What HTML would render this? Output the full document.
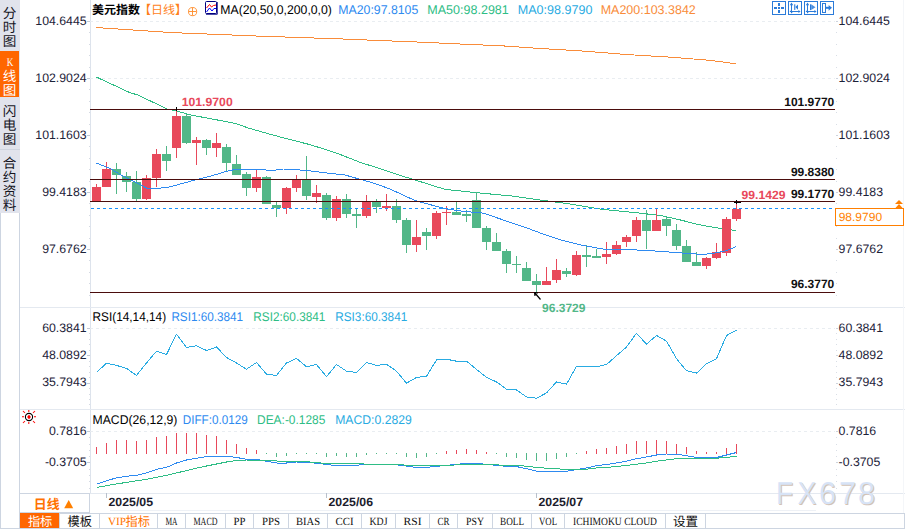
<!DOCTYPE html>
<html><head><meta charset="utf-8"><title>chart</title>
<style>html,body{margin:0;padding:0;background:#fff}svg{display:block}</style>
</head><body>
<svg width="905" height="529" viewBox="0 0 905 529" text-rendering="geometricPrecision">
<rect shape-rendering="crispEdges" x="0" y="0" width="905" height="529" fill="#fff"/>
<rect shape-rendering="crispEdges" x="0" y="0" width="20" height="529" fill="#fff"/>
<rect shape-rendering="crispEdges" x="0" y="0" width="20" height="213" fill="#e1e3ec"/>
<rect shape-rendering="crispEdges" x="0" y="51" width="19" height="46" fill="#ff6600"/>
<line shape-rendering="crispEdges" x1="0" y1="149.5" x2="20" y2="149.5" stroke="#cfd4df" stroke-width="1"/>
<line shape-rendering="crispEdges" x1="0.5" y1="213" x2="0.5" y2="529" stroke="#cdd5e1" stroke-width="1"/>
<line shape-rendering="crispEdges" x1="19.5" y1="213" x2="19.5" y2="529" stroke="#cdd5e1" stroke-width="1"/>
<line shape-rendering="crispEdges" x1="0" y1="528.5" x2="20" y2="528.5" stroke="#cdd5e1" stroke-width="1"/>
<text x="9.5" y="18.00" font-size="13.6" fill="#16161f" text-anchor="middle" font-family="Liberation Sans, Noto Sans CJK SC, sans-serif">分</text>
<text x="9.5" y="32.00" font-size="13.6" fill="#16161f" text-anchor="middle" font-family="Liberation Sans, Noto Sans CJK SC, sans-serif">时</text>
<text x="9.5" y="46.00" font-size="13.6" fill="#16161f" text-anchor="middle" font-family="Liberation Sans, Noto Sans CJK SC, sans-serif">图</text>
<text x="6.70" y="66.00" font-size="11.5" fill="#fff" text-anchor="start" font-weight="normal" font-family="Liberation Serif, sans-serif" textLength="6.60" lengthAdjust="spacingAndGlyphs">K</text>
<text x="9.5" y="81.00" font-size="13.6" fill="#fff" text-anchor="middle" font-family="Liberation Sans, Noto Sans CJK SC, sans-serif">线</text>
<text x="9.5" y="95.00" font-size="13.6" fill="#fff" text-anchor="middle" font-family="Liberation Sans, Noto Sans CJK SC, sans-serif">图</text>
<text x="9.5" y="116.00" font-size="13.6" fill="#16161f" text-anchor="middle" font-family="Liberation Sans, Noto Sans CJK SC, sans-serif">闪</text>
<text x="9.5" y="130.00" font-size="13.6" fill="#16161f" text-anchor="middle" font-family="Liberation Sans, Noto Sans CJK SC, sans-serif">电</text>
<text x="9.5" y="144.00" font-size="13.6" fill="#16161f" text-anchor="middle" font-family="Liberation Sans, Noto Sans CJK SC, sans-serif">图</text>
<text x="9.5" y="168.00" font-size="13.6" fill="#16161f" text-anchor="middle" font-family="Liberation Sans, Noto Sans CJK SC, sans-serif">合</text>
<text x="9.5" y="182.00" font-size="13.6" fill="#16161f" text-anchor="middle" font-family="Liberation Sans, Noto Sans CJK SC, sans-serif">约</text>
<text x="9.5" y="196.20" font-size="13.6" fill="#16161f" text-anchor="middle" font-family="Liberation Sans, Noto Sans CJK SC, sans-serif">资</text>
<text x="9.5" y="210.40" font-size="13.6" fill="#16161f" text-anchor="middle" font-family="Liberation Sans, Noto Sans CJK SC, sans-serif">料</text>
<line shape-rendering="crispEdges" x1="90.5" y1="0" x2="90.5" y2="493" stroke="#dde3ec" stroke-width="1"/>
<line shape-rendering="crispEdges" x1="20" y1="307.5" x2="905" y2="307.5" stroke="#e4e9f0" stroke-width="1"/>
<line shape-rendering="crispEdges" x1="20" y1="409.5" x2="905" y2="409.5" stroke="#e4e9f0" stroke-width="1"/>
<line shape-rendering="crispEdges" x1="20" y1="493.5" x2="905" y2="493.5" stroke="#e4e9f0" stroke-width="1"/>
<line shape-rendering="crispEdges" x1="903.5" y1="0" x2="903.5" y2="513" stroke="#f4f6f9" stroke-width="1"/>
<line shape-rendering="crispEdges" x1="90" y1="21.5" x2="835" y2="21.5" stroke="#e9edf1" stroke-width="1" stroke-dasharray="3 3"/>
<line shape-rendering="crispEdges" x1="90" y1="78.5" x2="835" y2="78.5" stroke="#e9edf1" stroke-width="1" stroke-dasharray="3 3"/>
<line shape-rendering="crispEdges" x1="90" y1="328.5" x2="835" y2="328.5" stroke="#e9edf1" stroke-width="1" stroke-dasharray="3 3"/>
<line shape-rendering="crispEdges" x1="90" y1="431.5" x2="835" y2="431.5" stroke="#e9edf1" stroke-width="1" stroke-dasharray="3 3"/>
<line shape-rendering="crispEdges" x1="87" y1="21.5" x2="90" y2="21.5" stroke="#c3cad6" stroke-width="1"/>
<line shape-rendering="crispEdges" x1="836" y1="21.5" x2="838" y2="21.5" stroke="#ced4de" stroke-width="1"/>
<line shape-rendering="crispEdges" x1="89" y1="32.5" x2="90" y2="32.5" stroke="#d5dae3" stroke-width="1"/>
<line shape-rendering="crispEdges" x1="836" y1="32.5" x2="837" y2="32.5" stroke="#d9dee6" stroke-width="1"/>
<line shape-rendering="crispEdges" x1="89" y1="44.5" x2="90" y2="44.5" stroke="#d5dae3" stroke-width="1"/>
<line shape-rendering="crispEdges" x1="836" y1="44.5" x2="837" y2="44.5" stroke="#d9dee6" stroke-width="1"/>
<line shape-rendering="crispEdges" x1="89" y1="55.5" x2="90" y2="55.5" stroke="#d5dae3" stroke-width="1"/>
<line shape-rendering="crispEdges" x1="836" y1="55.5" x2="837" y2="55.5" stroke="#d9dee6" stroke-width="1"/>
<line shape-rendering="crispEdges" x1="89" y1="67.5" x2="90" y2="67.5" stroke="#d5dae3" stroke-width="1"/>
<line shape-rendering="crispEdges" x1="836" y1="67.5" x2="837" y2="67.5" stroke="#d9dee6" stroke-width="1"/>
<line shape-rendering="crispEdges" x1="87" y1="78.5" x2="90" y2="78.5" stroke="#c3cad6" stroke-width="1"/>
<line shape-rendering="crispEdges" x1="836" y1="78.5" x2="838" y2="78.5" stroke="#ced4de" stroke-width="1"/>
<line shape-rendering="crispEdges" x1="89" y1="89.5" x2="90" y2="89.5" stroke="#d5dae3" stroke-width="1"/>
<line shape-rendering="crispEdges" x1="836" y1="89.5" x2="837" y2="89.5" stroke="#d9dee6" stroke-width="1"/>
<line shape-rendering="crispEdges" x1="89" y1="101.5" x2="90" y2="101.5" stroke="#d5dae3" stroke-width="1"/>
<line shape-rendering="crispEdges" x1="836" y1="101.5" x2="837" y2="101.5" stroke="#d9dee6" stroke-width="1"/>
<line shape-rendering="crispEdges" x1="89" y1="112.5" x2="90" y2="112.5" stroke="#d5dae3" stroke-width="1"/>
<line shape-rendering="crispEdges" x1="836" y1="112.5" x2="837" y2="112.5" stroke="#d9dee6" stroke-width="1"/>
<line shape-rendering="crispEdges" x1="89" y1="124.5" x2="90" y2="124.5" stroke="#d5dae3" stroke-width="1"/>
<line shape-rendering="crispEdges" x1="836" y1="124.5" x2="837" y2="124.5" stroke="#d9dee6" stroke-width="1"/>
<line shape-rendering="crispEdges" x1="87" y1="135.5" x2="90" y2="135.5" stroke="#c3cad6" stroke-width="1"/>
<line shape-rendering="crispEdges" x1="836" y1="135.5" x2="838" y2="135.5" stroke="#ced4de" stroke-width="1"/>
<line shape-rendering="crispEdges" x1="89" y1="146.5" x2="90" y2="146.5" stroke="#d5dae3" stroke-width="1"/>
<line shape-rendering="crispEdges" x1="836" y1="146.5" x2="837" y2="146.5" stroke="#d9dee6" stroke-width="1"/>
<line shape-rendering="crispEdges" x1="89" y1="158.5" x2="90" y2="158.5" stroke="#d5dae3" stroke-width="1"/>
<line shape-rendering="crispEdges" x1="836" y1="158.5" x2="837" y2="158.5" stroke="#d9dee6" stroke-width="1"/>
<line shape-rendering="crispEdges" x1="89" y1="169.5" x2="90" y2="169.5" stroke="#d5dae3" stroke-width="1"/>
<line shape-rendering="crispEdges" x1="836" y1="169.5" x2="837" y2="169.5" stroke="#d9dee6" stroke-width="1"/>
<line shape-rendering="crispEdges" x1="89" y1="181.5" x2="90" y2="181.5" stroke="#d5dae3" stroke-width="1"/>
<line shape-rendering="crispEdges" x1="836" y1="181.5" x2="837" y2="181.5" stroke="#d9dee6" stroke-width="1"/>
<line shape-rendering="crispEdges" x1="87" y1="192.5" x2="90" y2="192.5" stroke="#c3cad6" stroke-width="1"/>
<line shape-rendering="crispEdges" x1="836" y1="192.5" x2="838" y2="192.5" stroke="#ced4de" stroke-width="1"/>
<line shape-rendering="crispEdges" x1="89" y1="203.5" x2="90" y2="203.5" stroke="#d5dae3" stroke-width="1"/>
<line shape-rendering="crispEdges" x1="836" y1="203.5" x2="837" y2="203.5" stroke="#d9dee6" stroke-width="1"/>
<line shape-rendering="crispEdges" x1="89" y1="215.5" x2="90" y2="215.5" stroke="#d5dae3" stroke-width="1"/>
<line shape-rendering="crispEdges" x1="836" y1="215.5" x2="837" y2="215.5" stroke="#d9dee6" stroke-width="1"/>
<line shape-rendering="crispEdges" x1="89" y1="226.5" x2="90" y2="226.5" stroke="#d5dae3" stroke-width="1"/>
<line shape-rendering="crispEdges" x1="836" y1="226.5" x2="837" y2="226.5" stroke="#d9dee6" stroke-width="1"/>
<line shape-rendering="crispEdges" x1="89" y1="238.5" x2="90" y2="238.5" stroke="#d5dae3" stroke-width="1"/>
<line shape-rendering="crispEdges" x1="836" y1="238.5" x2="837" y2="238.5" stroke="#d9dee6" stroke-width="1"/>
<line shape-rendering="crispEdges" x1="87" y1="249.5" x2="90" y2="249.5" stroke="#c3cad6" stroke-width="1"/>
<line shape-rendering="crispEdges" x1="836" y1="249.5" x2="838" y2="249.5" stroke="#ced4de" stroke-width="1"/>
<line shape-rendering="crispEdges" x1="89" y1="260.5" x2="90" y2="260.5" stroke="#d5dae3" stroke-width="1"/>
<line shape-rendering="crispEdges" x1="836" y1="260.5" x2="837" y2="260.5" stroke="#d9dee6" stroke-width="1"/>
<line shape-rendering="crispEdges" x1="89" y1="272.5" x2="90" y2="272.5" stroke="#d5dae3" stroke-width="1"/>
<line shape-rendering="crispEdges" x1="836" y1="272.5" x2="837" y2="272.5" stroke="#d9dee6" stroke-width="1"/>
<line shape-rendering="crispEdges" x1="89" y1="283.5" x2="90" y2="283.5" stroke="#d5dae3" stroke-width="1"/>
<line shape-rendering="crispEdges" x1="836" y1="283.5" x2="837" y2="283.5" stroke="#d9dee6" stroke-width="1"/>
<line shape-rendering="crispEdges" x1="89" y1="295.5" x2="90" y2="295.5" stroke="#d5dae3" stroke-width="1"/>
<line shape-rendering="crispEdges" x1="836" y1="295.5" x2="837" y2="295.5" stroke="#d9dee6" stroke-width="1"/>
<line shape-rendering="crispEdges" x1="87" y1="328.5" x2="90" y2="328.5" stroke="#c3cad6" stroke-width="1"/>
<line shape-rendering="crispEdges" x1="836" y1="328.5" x2="838" y2="328.5" stroke="#ced4de" stroke-width="1"/>
<line shape-rendering="crispEdges" x1="89" y1="333.5" x2="90" y2="333.5" stroke="#d5dae3" stroke-width="1"/>
<line shape-rendering="crispEdges" x1="836" y1="333.5" x2="837" y2="333.5" stroke="#d9dee6" stroke-width="1"/>
<line shape-rendering="crispEdges" x1="89" y1="339.5" x2="90" y2="339.5" stroke="#d5dae3" stroke-width="1"/>
<line shape-rendering="crispEdges" x1="836" y1="339.5" x2="837" y2="339.5" stroke="#d9dee6" stroke-width="1"/>
<line shape-rendering="crispEdges" x1="89" y1="344.5" x2="90" y2="344.5" stroke="#d5dae3" stroke-width="1"/>
<line shape-rendering="crispEdges" x1="836" y1="344.5" x2="837" y2="344.5" stroke="#d9dee6" stroke-width="1"/>
<line shape-rendering="crispEdges" x1="89" y1="350.5" x2="90" y2="350.5" stroke="#d5dae3" stroke-width="1"/>
<line shape-rendering="crispEdges" x1="836" y1="350.5" x2="837" y2="350.5" stroke="#d9dee6" stroke-width="1"/>
<line shape-rendering="crispEdges" x1="87" y1="355.5" x2="90" y2="355.5" stroke="#c3cad6" stroke-width="1"/>
<line shape-rendering="crispEdges" x1="836" y1="355.5" x2="838" y2="355.5" stroke="#ced4de" stroke-width="1"/>
<line shape-rendering="crispEdges" x1="89" y1="361.5" x2="90" y2="361.5" stroke="#d5dae3" stroke-width="1"/>
<line shape-rendering="crispEdges" x1="836" y1="361.5" x2="837" y2="361.5" stroke="#d9dee6" stroke-width="1"/>
<line shape-rendering="crispEdges" x1="89" y1="366.5" x2="90" y2="366.5" stroke="#d5dae3" stroke-width="1"/>
<line shape-rendering="crispEdges" x1="836" y1="366.5" x2="837" y2="366.5" stroke="#d9dee6" stroke-width="1"/>
<line shape-rendering="crispEdges" x1="89" y1="372.5" x2="90" y2="372.5" stroke="#d5dae3" stroke-width="1"/>
<line shape-rendering="crispEdges" x1="836" y1="372.5" x2="837" y2="372.5" stroke="#d9dee6" stroke-width="1"/>
<line shape-rendering="crispEdges" x1="89" y1="377.5" x2="90" y2="377.5" stroke="#d5dae3" stroke-width="1"/>
<line shape-rendering="crispEdges" x1="836" y1="377.5" x2="837" y2="377.5" stroke="#d9dee6" stroke-width="1"/>
<line shape-rendering="crispEdges" x1="87" y1="383.5" x2="90" y2="383.5" stroke="#c3cad6" stroke-width="1"/>
<line shape-rendering="crispEdges" x1="836" y1="383.5" x2="838" y2="383.5" stroke="#ced4de" stroke-width="1"/>
<line shape-rendering="crispEdges" x1="89" y1="388.5" x2="90" y2="388.5" stroke="#d5dae3" stroke-width="1"/>
<line shape-rendering="crispEdges" x1="836" y1="388.5" x2="837" y2="388.5" stroke="#d9dee6" stroke-width="1"/>
<line shape-rendering="crispEdges" x1="89" y1="394.5" x2="90" y2="394.5" stroke="#d5dae3" stroke-width="1"/>
<line shape-rendering="crispEdges" x1="836" y1="394.5" x2="837" y2="394.5" stroke="#d9dee6" stroke-width="1"/>
<line shape-rendering="crispEdges" x1="89" y1="399.5" x2="90" y2="399.5" stroke="#d5dae3" stroke-width="1"/>
<line shape-rendering="crispEdges" x1="836" y1="399.5" x2="837" y2="399.5" stroke="#d9dee6" stroke-width="1"/>
<line shape-rendering="crispEdges" x1="89" y1="404.5" x2="90" y2="404.5" stroke="#d5dae3" stroke-width="1"/>
<line shape-rendering="crispEdges" x1="836" y1="404.5" x2="837" y2="404.5" stroke="#d9dee6" stroke-width="1"/>
<line shape-rendering="crispEdges" x1="87" y1="431.5" x2="90" y2="431.5" stroke="#c3cad6" stroke-width="1"/>
<line shape-rendering="crispEdges" x1="836" y1="431.5" x2="838" y2="431.5" stroke="#ced4de" stroke-width="1"/>
<line shape-rendering="crispEdges" x1="89" y1="437.5" x2="90" y2="437.5" stroke="#d5dae3" stroke-width="1"/>
<line shape-rendering="crispEdges" x1="836" y1="437.5" x2="837" y2="437.5" stroke="#d9dee6" stroke-width="1"/>
<line shape-rendering="crispEdges" x1="89" y1="444.5" x2="90" y2="444.5" stroke="#d5dae3" stroke-width="1"/>
<line shape-rendering="crispEdges" x1="836" y1="444.5" x2="837" y2="444.5" stroke="#d9dee6" stroke-width="1"/>
<line shape-rendering="crispEdges" x1="89" y1="450.5" x2="90" y2="450.5" stroke="#d5dae3" stroke-width="1"/>
<line shape-rendering="crispEdges" x1="836" y1="450.5" x2="837" y2="450.5" stroke="#d9dee6" stroke-width="1"/>
<line shape-rendering="crispEdges" x1="89" y1="456.5" x2="90" y2="456.5" stroke="#d5dae3" stroke-width="1"/>
<line shape-rendering="crispEdges" x1="836" y1="456.5" x2="837" y2="456.5" stroke="#d9dee6" stroke-width="1"/>
<line shape-rendering="crispEdges" x1="87" y1="462.5" x2="90" y2="462.5" stroke="#c3cad6" stroke-width="1"/>
<line shape-rendering="crispEdges" x1="836" y1="462.5" x2="838" y2="462.5" stroke="#ced4de" stroke-width="1"/>
<line shape-rendering="crispEdges" x1="89" y1="469.5" x2="90" y2="469.5" stroke="#d5dae3" stroke-width="1"/>
<line shape-rendering="crispEdges" x1="836" y1="469.5" x2="837" y2="469.5" stroke="#d9dee6" stroke-width="1"/>
<line shape-rendering="crispEdges" x1="89" y1="475.5" x2="90" y2="475.5" stroke="#d5dae3" stroke-width="1"/>
<line shape-rendering="crispEdges" x1="836" y1="475.5" x2="837" y2="475.5" stroke="#d9dee6" stroke-width="1"/>
<line shape-rendering="crispEdges" x1="89" y1="481.5" x2="90" y2="481.5" stroke="#d5dae3" stroke-width="1"/>
<line shape-rendering="crispEdges" x1="836" y1="481.5" x2="837" y2="481.5" stroke="#d9dee6" stroke-width="1"/>
<line shape-rendering="crispEdges" x1="89" y1="488.5" x2="90" y2="488.5" stroke="#d5dae3" stroke-width="1"/>
<line shape-rendering="crispEdges" x1="836" y1="488.5" x2="837" y2="488.5" stroke="#d9dee6" stroke-width="1"/>
<polyline shape-rendering="crispEdges" fill="none" stroke="#f98c3a" stroke-width="1" stroke-linejoin="round" points="96.5,27.6 172.0,32.6 256.0,36.0 340.0,38.9 424.0,42.3 468.0,44.4 500.0,45.7 542.0,48.6 584.0,51.1 626.0,54.5 668.0,57.0 710.0,60.3 735.5,63.7"/>
<polyline shape-rendering="crispEdges" fill="none" stroke="#2ebd85" stroke-width="1" stroke-linejoin="round" points="96.5,77.1 130.0,92.7 137.9,95.0 167.4,109.1 176.5,110.9 190.8,115.0 235.0,123.3 248.0,127.9 255.0,130.0 283.4,137.9 310.6,144.8 335.6,152.7 360.6,162.5 383.3,169.7 398.0,174.8 410.7,178.6 444.7,189.3 476.5,192.7 512.8,196.1 544.6,200.6 567.5,203.6 601.5,209.3 633.3,212.4 659.8,215.4 679.7,219.8 699.5,224.8 719.4,228.3 735.7,230.5"/>
<rect shape-rendering="crispEdges" x="96" y="184" width="1" height="17" fill="#e8495b"/>
<rect shape-rendering="crispEdges" x="92" y="187" width="9" height="14" fill="#e8495b"/>
<rect shape-rendering="crispEdges" x="106" y="162" width="1" height="25" fill="#e8495b"/>
<rect shape-rendering="crispEdges" x="102" y="169" width="9" height="18" fill="#e8495b"/>
<rect shape-rendering="crispEdges" x="116" y="163" width="1" height="31" fill="#52b788"/>
<rect shape-rendering="crispEdges" x="112" y="169" width="9" height="6" fill="#52b788"/>
<rect shape-rendering="crispEdges" x="126" y="172" width="1" height="20" fill="#52b788"/>
<rect shape-rendering="crispEdges" x="122" y="176" width="9" height="6" fill="#52b788"/>
<rect shape-rendering="crispEdges" x="136" y="171" width="1" height="30" fill="#52b788"/>
<rect shape-rendering="crispEdges" x="132" y="182" width="9" height="17" fill="#52b788"/>
<rect shape-rendering="crispEdges" x="146" y="175" width="1" height="25" fill="#e8495b"/>
<rect shape-rendering="crispEdges" x="142" y="178" width="9" height="21" fill="#e8495b"/>
<rect shape-rendering="crispEdges" x="156" y="149" width="1" height="38" fill="#e8495b"/>
<rect shape-rendering="crispEdges" x="152" y="154" width="9" height="24" fill="#e8495b"/>
<rect shape-rendering="crispEdges" x="166" y="146" width="1" height="25" fill="#52b788"/>
<rect shape-rendering="crispEdges" x="162" y="154" width="9" height="7" fill="#52b788"/>
<rect shape-rendering="crispEdges" x="176" y="110" width="1" height="48" fill="#e8495b"/>
<rect shape-rendering="crispEdges" x="172" y="116" width="9" height="32" fill="#e8495b"/>
<rect shape-rendering="crispEdges" x="186" y="114" width="1" height="30" fill="#52b788"/>
<rect shape-rendering="crispEdges" x="182" y="116" width="9" height="27" fill="#52b788"/>
<rect shape-rendering="crispEdges" x="196" y="137" width="1" height="28" fill="#e8495b"/>
<rect shape-rendering="crispEdges" x="192" y="140" width="9" height="3" fill="#e8495b"/>
<rect shape-rendering="crispEdges" x="206" y="139" width="1" height="16" fill="#52b788"/>
<rect shape-rendering="crispEdges" x="202" y="140" width="9" height="8" fill="#52b788"/>
<rect shape-rendering="crispEdges" x="216" y="133" width="1" height="24" fill="#e8495b"/>
<rect shape-rendering="crispEdges" x="212" y="143" width="9" height="5" fill="#e8495b"/>
<rect shape-rendering="crispEdges" x="226" y="144" width="1" height="27" fill="#52b788"/>
<rect shape-rendering="crispEdges" x="222" y="147" width="9" height="16" fill="#52b788"/>
<rect shape-rendering="crispEdges" x="236" y="155" width="1" height="20" fill="#52b788"/>
<rect shape-rendering="crispEdges" x="232" y="164" width="9" height="11" fill="#52b788"/>
<rect shape-rendering="crispEdges" x="246" y="172" width="1" height="24" fill="#52b788"/>
<rect shape-rendering="crispEdges" x="242" y="174" width="9" height="14" fill="#52b788"/>
<rect shape-rendering="crispEdges" x="256" y="170" width="1" height="22" fill="#e8495b"/>
<rect shape-rendering="crispEdges" x="252" y="177" width="9" height="11" fill="#e8495b"/>
<rect shape-rendering="crispEdges" x="266" y="176" width="1" height="28" fill="#52b788"/>
<rect shape-rendering="crispEdges" x="262" y="177" width="9" height="27" fill="#52b788"/>
<rect shape-rendering="crispEdges" x="276" y="202" width="1" height="15" fill="#52b788"/>
<rect shape-rendering="crispEdges" x="272" y="205" width="9" height="3" fill="#52b788"/>
<rect shape-rendering="crispEdges" x="286" y="187" width="1" height="27" fill="#e8495b"/>
<rect shape-rendering="crispEdges" x="282" y="188" width="9" height="20" fill="#e8495b"/>
<rect shape-rendering="crispEdges" x="296" y="175" width="1" height="17" fill="#e8495b"/>
<rect shape-rendering="crispEdges" x="292" y="180" width="9" height="8" fill="#e8495b"/>
<rect shape-rendering="crispEdges" x="306" y="156" width="1" height="44" fill="#52b788"/>
<rect shape-rendering="crispEdges" x="302" y="180" width="9" height="16" fill="#52b788"/>
<rect shape-rendering="crispEdges" x="316" y="185" width="1" height="18" fill="#e8495b"/>
<rect shape-rendering="crispEdges" x="312" y="193" width="9" height="4" fill="#e8495b"/>
<rect shape-rendering="crispEdges" x="326" y="193" width="1" height="27" fill="#52b788"/>
<rect shape-rendering="crispEdges" x="322" y="195" width="9" height="23" fill="#52b788"/>
<rect shape-rendering="crispEdges" x="336" y="196" width="1" height="25" fill="#e8495b"/>
<rect shape-rendering="crispEdges" x="332" y="199" width="9" height="19" fill="#e8495b"/>
<rect shape-rendering="crispEdges" x="346" y="194" width="1" height="24" fill="#52b788"/>
<rect shape-rendering="crispEdges" x="342" y="199" width="9" height="15" fill="#52b788"/>
<rect shape-rendering="crispEdges" x="356" y="209" width="1" height="19" fill="#52b788"/>
<rect shape-rendering="crispEdges" x="352" y="214" width="9" height="2" fill="#52b788"/>
<rect shape-rendering="crispEdges" x="366" y="195" width="1" height="23" fill="#e8495b"/>
<rect shape-rendering="crispEdges" x="362" y="202" width="9" height="14" fill="#e8495b"/>
<rect shape-rendering="crispEdges" x="376" y="199" width="1" height="14" fill="#52b788"/>
<rect shape-rendering="crispEdges" x="372" y="202" width="9" height="5" fill="#52b788"/>
<rect shape-rendering="crispEdges" x="386" y="194" width="1" height="17" fill="#e8495b"/>
<rect shape-rendering="crispEdges" x="382" y="206" width="9" height="2" fill="#e8495b"/>
<rect shape-rendering="crispEdges" x="396" y="199" width="1" height="24" fill="#52b788"/>
<rect shape-rendering="crispEdges" x="392" y="206" width="9" height="14" fill="#52b788"/>
<rect shape-rendering="crispEdges" x="406" y="218" width="1" height="35" fill="#52b788"/>
<rect shape-rendering="crispEdges" x="402" y="220" width="9" height="25" fill="#52b788"/>
<rect shape-rendering="crispEdges" x="416" y="220" width="1" height="32" fill="#e8495b"/>
<rect shape-rendering="crispEdges" x="412" y="237" width="9" height="8" fill="#e8495b"/>
<rect shape-rendering="crispEdges" x="426" y="228" width="1" height="22" fill="#52b788"/>
<rect shape-rendering="crispEdges" x="422" y="232" width="9" height="4" fill="#52b788"/>
<rect shape-rendering="crispEdges" x="436" y="211" width="1" height="28" fill="#e8495b"/>
<rect shape-rendering="crispEdges" x="432" y="213" width="9" height="23" fill="#e8495b"/>
<rect shape-rendering="crispEdges" x="446" y="206" width="1" height="19" fill="#e8495b"/>
<rect shape-rendering="crispEdges" x="442" y="212" width="9" height="1" fill="#e8495b"/>
<rect shape-rendering="crispEdges" x="456" y="202" width="1" height="13" fill="#52b788"/>
<rect shape-rendering="crispEdges" x="452" y="212" width="9" height="3" fill="#52b788"/>
<rect shape-rendering="crispEdges" x="466" y="210" width="1" height="12" fill="#52b788"/>
<rect shape-rendering="crispEdges" x="462" y="214" width="9" height="2" fill="#52b788"/>
<rect shape-rendering="crispEdges" x="476" y="192" width="1" height="36" fill="#52b788"/>
<rect shape-rendering="crispEdges" x="472" y="200" width="9" height="28" fill="#52b788"/>
<rect shape-rendering="crispEdges" x="486" y="226" width="1" height="24" fill="#52b788"/>
<rect shape-rendering="crispEdges" x="482" y="228" width="9" height="14" fill="#52b788"/>
<rect shape-rendering="crispEdges" x="496" y="233" width="1" height="18" fill="#52b788"/>
<rect shape-rendering="crispEdges" x="492" y="242" width="9" height="9" fill="#52b788"/>
<rect shape-rendering="crispEdges" x="506" y="249" width="1" height="24" fill="#52b788"/>
<rect shape-rendering="crispEdges" x="502" y="251" width="9" height="13" fill="#52b788"/>
<rect shape-rendering="crispEdges" x="516" y="256" width="1" height="17" fill="#52b788"/>
<rect shape-rendering="crispEdges" x="512" y="264" width="9" height="1" fill="#52b788"/>
<rect shape-rendering="crispEdges" x="526" y="262" width="1" height="19" fill="#52b788"/>
<rect shape-rendering="crispEdges" x="522" y="268" width="9" height="13" fill="#52b788"/>
<rect shape-rendering="crispEdges" x="536" y="274" width="1" height="18" fill="#52b788"/>
<rect shape-rendering="crispEdges" x="532" y="281" width="9" height="4" fill="#52b788"/>
<rect shape-rendering="crispEdges" x="546" y="267" width="1" height="18" fill="#e8495b"/>
<rect shape-rendering="crispEdges" x="542" y="281" width="9" height="4" fill="#e8495b"/>
<rect shape-rendering="crispEdges" x="556" y="259" width="1" height="24" fill="#e8495b"/>
<rect shape-rendering="crispEdges" x="552" y="270" width="9" height="10" fill="#e8495b"/>
<rect shape-rendering="crispEdges" x="566" y="268" width="1" height="9" fill="#52b788"/>
<rect shape-rendering="crispEdges" x="562" y="271" width="9" height="3" fill="#52b788"/>
<rect shape-rendering="crispEdges" x="576" y="251" width="1" height="25" fill="#e8495b"/>
<rect shape-rendering="crispEdges" x="572" y="255" width="9" height="20" fill="#e8495b"/>
<rect shape-rendering="crispEdges" x="586" y="245" width="1" height="22" fill="#52b788"/>
<rect shape-rendering="crispEdges" x="582" y="255" width="9" height="2" fill="#52b788"/>
<rect shape-rendering="crispEdges" x="596" y="249" width="1" height="9" fill="#52b788"/>
<rect shape-rendering="crispEdges" x="592" y="256" width="9" height="2" fill="#52b788"/>
<rect shape-rendering="crispEdges" x="606" y="242" width="1" height="22" fill="#e8495b"/>
<rect shape-rendering="crispEdges" x="602" y="254" width="9" height="3" fill="#e8495b"/>
<rect shape-rendering="crispEdges" x="616" y="241" width="1" height="14" fill="#e8495b"/>
<rect shape-rendering="crispEdges" x="612" y="245" width="9" height="9" fill="#e8495b"/>
<rect shape-rendering="crispEdges" x="626" y="235" width="1" height="12" fill="#e8495b"/>
<rect shape-rendering="crispEdges" x="622" y="237" width="9" height="5" fill="#e8495b"/>
<rect shape-rendering="crispEdges" x="636" y="217" width="1" height="25" fill="#e8495b"/>
<rect shape-rendering="crispEdges" x="632" y="220" width="9" height="16" fill="#e8495b"/>
<rect shape-rendering="crispEdges" x="646" y="210" width="1" height="39" fill="#52b788"/>
<rect shape-rendering="crispEdges" x="642" y="220" width="9" height="11" fill="#52b788"/>
<rect shape-rendering="crispEdges" x="656" y="209" width="1" height="22" fill="#e8495b"/>
<rect shape-rendering="crispEdges" x="652" y="220" width="9" height="11" fill="#e8495b"/>
<rect shape-rendering="crispEdges" x="666" y="217" width="1" height="19" fill="#52b788"/>
<rect shape-rendering="crispEdges" x="662" y="219" width="9" height="7" fill="#52b788"/>
<rect shape-rendering="crispEdges" x="676" y="224" width="1" height="26" fill="#52b788"/>
<rect shape-rendering="crispEdges" x="672" y="230" width="9" height="16" fill="#52b788"/>
<rect shape-rendering="crispEdges" x="686" y="240" width="1" height="22" fill="#52b788"/>
<rect shape-rendering="crispEdges" x="682" y="246" width="9" height="16" fill="#52b788"/>
<rect shape-rendering="crispEdges" x="696" y="252" width="1" height="14" fill="#52b788"/>
<rect shape-rendering="crispEdges" x="692" y="262" width="9" height="4" fill="#52b788"/>
<rect shape-rendering="crispEdges" x="706" y="257" width="1" height="12" fill="#e8495b"/>
<rect shape-rendering="crispEdges" x="702" y="258" width="9" height="8" fill="#e8495b"/>
<rect shape-rendering="crispEdges" x="716" y="243" width="1" height="16" fill="#e8495b"/>
<rect shape-rendering="crispEdges" x="712" y="252" width="9" height="6" fill="#e8495b"/>
<rect shape-rendering="crispEdges" x="726" y="217" width="1" height="39" fill="#e8495b"/>
<rect shape-rendering="crispEdges" x="722" y="219" width="9" height="34" fill="#e8495b"/>
<rect shape-rendering="crispEdges" x="736" y="202" width="1" height="19" fill="#e8495b"/>
<rect shape-rendering="crispEdges" x="732" y="209" width="9" height="10" fill="#e8495b"/>
<polyline shape-rendering="crispEdges" fill="none" stroke="#2e8af0" stroke-width="1" stroke-linejoin="round" points="96.4,163.1 110.7,168.8 122.0,175.6 133.4,181.2 147.5,188.5 160.6,188.1 170.0,186.9 189.8,181.4 209.7,176.4 229.5,170.5 237.5,169.2 249.4,170.0 257.3,169.2 272.0,170.6 283.4,169.0 306.0,170.4 324.2,172.7 344.7,174.9 358.3,178.8 374.2,183.3 390.0,189.0 415.2,200.6 444.7,208.6 462.9,211.3 483.3,213.1 508.3,221.7 528.7,228.6 545.0,234.8 560.7,239.9 583.4,245.6 606.0,249.5 642.4,250.1 665.1,251.7 688.0,253.5 701.6,254.4 713.0,253.5 726.6,250.6 735.7,246.7"/>
<line shape-rendering="crispEdges" x1="90" y1="109.5" x2="835" y2="109.5" stroke="#4a0c0c" stroke-width="1"/>
<line shape-rendering="crispEdges" x1="90" y1="179.5" x2="835" y2="179.5" stroke="#4a0c0c" stroke-width="1"/>
<line shape-rendering="crispEdges" x1="90" y1="201.5" x2="835" y2="201.5" stroke="#4a0c0c" stroke-width="1"/>
<line shape-rendering="crispEdges" x1="90" y1="292.5" x2="835" y2="292.5" stroke="#4a0c0c" stroke-width="1"/>
<line shape-rendering="crispEdges" x1="91" y1="208.5" x2="833" y2="208.5" stroke="#1890ff" stroke-width="1" stroke-dasharray="3 3"/>
<line shape-rendering="crispEdges" x1="176.5" y1="107" x2="176.5" y2="111" stroke="#000" stroke-width="1"/>
<line shape-rendering="crispEdges" x1="736.5" y1="200" x2="736.5" y2="204" stroke="#000" stroke-width="1"/>
<line shape-rendering="crispEdges" x1="734" y1="202.5" x2="741" y2="202.5" stroke="#000" stroke-width="1"/>
<path d="M534.5 292.5 L540.5 299.5 M534.5 292.5 l3.5 0.5 M534.5 292.5 l0.5 3.5" stroke="#000" stroke-width="1.2" fill="none"/>
<text x="181.70" y="106.00" font-size="12" fill="#e8495b" text-anchor="start" font-weight="bold" font-family="Liberation Sans, sans-serif" textLength="51.00" lengthAdjust="spacingAndGlyphs">101.9700</text>
<text x="741.50" y="198.50" font-size="12" fill="#e8495b" text-anchor="start" font-weight="bold" font-family="Liberation Sans, sans-serif" textLength="44.00" lengthAdjust="spacingAndGlyphs">99.1429</text>
<text x="542.00" y="312.00" font-size="12" fill="#52b788" text-anchor="start" font-weight="bold" font-family="Liberation Sans, sans-serif" textLength="43.50" lengthAdjust="spacingAndGlyphs">96.3729</text>
<text x="834.30" y="106.00" font-size="12" fill="#111" text-anchor="end" font-weight="bold" font-family="Liberation Sans, sans-serif">101.9770</text>
<text x="834.30" y="175.70" font-size="12" fill="#111" text-anchor="end" font-weight="bold" font-family="Liberation Sans, sans-serif">99.8380</text>
<text x="834.30" y="197.70" font-size="12" fill="#111" text-anchor="end" font-weight="bold" font-family="Liberation Sans, sans-serif">99.1770</text>
<text x="834.30" y="288.20" font-size="12" fill="#111" text-anchor="end" font-weight="bold" font-family="Liberation Sans, sans-serif">96.3770</text>
<text x="86.60" y="25.00" font-size="12.3" fill="#1c2238" text-anchor="end" font-weight="normal" font-family="Liberation Sans, sans-serif">104.6445</text>
<text x="838.60" y="25.00" font-size="12.3" fill="#1c2238" text-anchor="start" font-weight="normal" font-family="Liberation Sans, sans-serif">104.6445</text>
<text x="86.60" y="82.00" font-size="12.3" fill="#1c2238" text-anchor="end" font-weight="normal" font-family="Liberation Sans, sans-serif">102.9024</text>
<text x="838.60" y="82.00" font-size="12.3" fill="#1c2238" text-anchor="start" font-weight="normal" font-family="Liberation Sans, sans-serif">102.9024</text>
<text x="86.60" y="139.00" font-size="12.3" fill="#1c2238" text-anchor="end" font-weight="normal" font-family="Liberation Sans, sans-serif">101.1603</text>
<text x="838.60" y="139.00" font-size="12.3" fill="#1c2238" text-anchor="start" font-weight="normal" font-family="Liberation Sans, sans-serif">101.1603</text>
<text x="86.60" y="196.00" font-size="12.3" fill="#1c2238" text-anchor="end" font-weight="normal" font-family="Liberation Sans, sans-serif">99.4183</text>
<text x="838.60" y="196.00" font-size="12.3" fill="#1c2238" text-anchor="start" font-weight="normal" font-family="Liberation Sans, sans-serif">99.4183</text>
<text x="86.60" y="253.00" font-size="12.3" fill="#1c2238" text-anchor="end" font-weight="normal" font-family="Liberation Sans, sans-serif">97.6762</text>
<text x="838.60" y="253.00" font-size="12.3" fill="#1c2238" text-anchor="start" font-weight="normal" font-family="Liberation Sans, sans-serif">97.6762</text>
<text x="86.60" y="331.60" font-size="12.3" fill="#1c2238" text-anchor="end" font-weight="normal" font-family="Liberation Sans, sans-serif">60.3841</text>
<text x="838.60" y="331.60" font-size="12.3" fill="#1c2238" text-anchor="start" font-weight="normal" font-family="Liberation Sans, sans-serif">60.3841</text>
<text x="86.60" y="359.00" font-size="12.3" fill="#1c2238" text-anchor="end" font-weight="normal" font-family="Liberation Sans, sans-serif">48.0892</text>
<text x="838.60" y="359.00" font-size="12.3" fill="#1c2238" text-anchor="start" font-weight="normal" font-family="Liberation Sans, sans-serif">48.0892</text>
<text x="86.60" y="386.30" font-size="12.3" fill="#1c2238" text-anchor="end" font-weight="normal" font-family="Liberation Sans, sans-serif">35.7943</text>
<text x="838.60" y="386.30" font-size="12.3" fill="#1c2238" text-anchor="start" font-weight="normal" font-family="Liberation Sans, sans-serif">35.7943</text>
<text x="86.60" y="435.00" font-size="12.3" fill="#1c2238" text-anchor="end" font-weight="normal" font-family="Liberation Sans, sans-serif">0.7816</text>
<text x="838.60" y="435.00" font-size="12.3" fill="#1c2238" text-anchor="start" font-weight="normal" font-family="Liberation Sans, sans-serif">0.7816</text>
<text x="86.60" y="466.20" font-size="12.3" fill="#1c2238" text-anchor="end" font-weight="normal" font-family="Liberation Sans, sans-serif">-0.3705</text>
<text x="838.60" y="466.20" font-size="12.3" fill="#1c2238" text-anchor="start" font-weight="normal" font-family="Liberation Sans, sans-serif">-0.3705</text>
<rect shape-rendering="crispEdges" x="835.5" y="208.5" width="68" height="17" fill="#fff" stroke="#ff7f00" stroke-width="1"/>
<text x="838.70" y="221.00" font-size="12" fill="#ff7f00" text-anchor="start" font-weight="normal" font-family="Liberation Sans, sans-serif">98.9790</text>
<path d="M899 200 l4 4 h-8z M899 204 l4 4.5 h-8z" fill="#ff7f00"/>
<text x="92.00" y="14.00" font-size="12" fill="#000" text-anchor="start" font-weight="bold" font-family="Liberation Sans, Noto Sans CJK SC, sans-serif" textLength="48" lengthAdjust="spacingAndGlyphs">美元指数</text>
<text x="139.00" y="14.00" font-size="12" fill="#ff7f1a" text-anchor="start" font-weight="normal" font-family="Liberation Sans, Noto Sans CJK SC, sans-serif" textLength="48" lengthAdjust="spacingAndGlyphs">【日线】</text>
<g stroke="#ff8a26" stroke-width="0.9" fill="none"><circle cx="192.6" cy="11.6" r="4.1"/><path d="M188.5 11.5h8M192.5 7.5v8"/></g>
<g><rect x="205.5" y="1.5" width="11" height="12" rx="1" fill="#fff" stroke="#000080" stroke-width="1"/><path d="M206 14.2h11.5M217.2 2v12" stroke="#000080" stroke-width="1" fill="none"/><path d="M206.5 8 l3 -3.5 l2 2.5 l2 -1.5 l2.5 -0.5" stroke="#f00" stroke-width="1" fill="none"/><path d="M206.5 12 l3 -4 l2.5 3 l2 -2.5 l2 0" stroke="#00f" stroke-width="1" fill="none"/></g>
<text x="220.30" y="14.00" font-size="12.6" fill="#000" text-anchor="start" font-weight="normal" font-family="Liberation Sans, sans-serif" textLength="111.60" lengthAdjust="spacingAndGlyphs">MA(20,50,0,200,0,0)</text>
<text x="338.30" y="14.00" font-size="12.6" fill="#2e8af0" text-anchor="start" font-weight="normal" font-family="Liberation Sans, sans-serif" textLength="80.00" lengthAdjust="spacingAndGlyphs">MA20:97.8105</text>
<text x="427.30" y="14.00" font-size="12.6" fill="#2ebd85" text-anchor="start" font-weight="normal" font-family="Liberation Sans, sans-serif" textLength="81.50" lengthAdjust="spacingAndGlyphs">MA50:98.2981</text>
<text x="517.80" y="14.00" font-size="12.6" fill="#29abe2" text-anchor="start" font-weight="normal" font-family="Liberation Sans, sans-serif" textLength="74.60" lengthAdjust="spacingAndGlyphs">MA0:98.9790</text>
<text x="600.70" y="14.00" font-size="12.6" fill="#f98c3a" text-anchor="start" font-weight="normal" font-family="Liberation Sans, sans-serif" textLength="95.10" lengthAdjust="spacingAndGlyphs">MA200:103.3842</text>
<rect x="772.5" y="1.5" width="13" height="13" fill="#fff" stroke="#2b7bd9" stroke-width="1"/>
<rect x="788.5" y="1.5" width="13" height="13" fill="#fff" stroke="#2b7bd9" stroke-width="1"/>
<rect x="804.5" y="1.5" width="13" height="13" fill="#fff" stroke="#2b7bd9" stroke-width="1"/>
<rect x="820.5" y="1.5" width="13" height="13" fill="#fff" stroke="#2b7bd9" stroke-width="1"/>
<g fill="#2b7bd9" shape-rendering="crispEdges"><rect x="778" y="3" width="2" height="3"/><rect x="778" y="7" width="2" height="2"/><rect x="778" y="10" width="2" height="3"/><rect x="774" y="7" width="3" height="2"/><rect x="781" y="7" width="3" height="2"/></g>
<g><path d="M791.5 3.5V13M790.0 11.5H800.0" stroke="#2b7bd9" stroke-width="1" fill="none"/><path d="M791.5 2.6l1.7 2.6h-3.4zM791.5 13.6l1.4-1.8h-2.8zM800.6 11.5l-2.2-1.6v3.2zM789.6 11.5l1.8-1.4v2.8z" fill="#2b7bd9"/><rect x="794.2" y="4.3" width="1.1" height="5.6" fill="#2b7bd9"/><path d="M795.4 7.1L798 4.5V9.7z" fill="#2b7bd9"/></g>
<g><path d="M807.5 3.5V13M806.0 11.5H816.0" stroke="#2b7bd9" stroke-width="1" fill="none"/><path d="M807.5 2.6l1.7 2.6h-3.4zM807.5 13.6l1.4-1.8h-2.8zM816.6 11.5l-2.2-1.6v3.2zM805.6 11.5l1.8-1.4v2.8z" fill="#2b7bd9"/><rect x="810" y="4.3" width="1.1" height="5.8" fill="#2b7bd9"/><path d="M811.2 4.3L815.5 7.2L811.2 10.1z" fill="#2b7bd9" fill-opacity="0.85"/></g>
<g><rect x="822.5" y="3.5" width="3" height="9" fill="none" stroke="#2b7bd9" stroke-width="1"/><rect x="825.5" y="6.8" width="3.6" height="2" fill="#2b7bd9"/><path d="M828.6 4.9L832 7.8L828.6 10.7z" fill="#2b7bd9"/></g>
<text x="92.50" y="321.00" font-size="12.6" fill="#000" text-anchor="start" font-weight="normal" font-family="Liberation Sans, sans-serif" textLength="73.60" lengthAdjust="spacingAndGlyphs">RSI(14,14,14)</text>
<text x="171.40" y="321.00" font-size="12.6" fill="#2e8af0" text-anchor="start" font-weight="normal" font-family="Liberation Sans, sans-serif" textLength="71.70" lengthAdjust="spacingAndGlyphs">RSI1:60.3841</text>
<text x="253.30" y="321.00" font-size="12.6" fill="#2ebd85" text-anchor="start" font-weight="normal" font-family="Liberation Sans, sans-serif" textLength="72.10" lengthAdjust="spacingAndGlyphs">RSI2:60.3841</text>
<text x="335.20" y="321.00" font-size="12.6" fill="#29abe2" text-anchor="start" font-weight="normal" font-family="Liberation Sans, sans-serif" textLength="72.10" lengthAdjust="spacingAndGlyphs">RSI3:60.3841</text>
<polyline shape-rendering="crispEdges" fill="none" stroke="#29abe2" stroke-width="1" stroke-linejoin="round" points="96.5,372.4 106.5,363.2 116.5,365.4 126.5,368.4 136.5,375.4 146.5,363.0 156.5,351.2 166.5,354.5 176.5,334.2 186.5,347.5 196.5,345.7 206.5,350.5 216.5,347.0 226.5,357.5 236.5,363.0 246.5,369.2 256.5,362.5 266.5,374.2 276.5,375.4 286.5,363.0 296.5,358.5 306.5,366.7 316.5,364.5 326.5,376.7 336.5,364.5 346.5,371.2 356.5,372.4 366.5,362.5 376.5,365.4 386.5,364.2 396.5,371.2 406.5,383.2 416.5,377.4 426.5,376.2 436.5,360.0 446.5,359.2 456.5,361.2 466.5,361.2 476.5,369.4 486.5,377.4 496.5,381.9 506.5,389.2 516.5,390.0 526.5,396.9 536.5,398.2 546.5,392.9 556.5,381.9 566.5,384.2 576.5,366.2 586.5,366.9 596.5,366.9 606.5,364.5 616.5,355.7 626.5,347.0 636.5,333.2 646.5,344.2 656.5,335.5 666.5,341.2 676.5,358.7 686.5,370.7 696.5,373.2 706.5,363.7 716.5,358.7 726.5,335.5 736.5,330.0"/>
<g><circle cx="29" cy="417" r="3.6" fill="#fff" stroke="#000" stroke-width="1.1"/><rect x="27.5" y="416" width="3" height="2" fill="#f00"/><rect x="28" y="415.3" width="2" height="3.4" fill="#f00"/><g stroke="#f00" stroke-width="1.05"><path d="M28.8 410v2M28.8 422v2M22 416.8h2M34 416.8h2M23 411l2 2M35 411l-2 2M23 423l2-2M35 423l-2-2"/></g></g>
<text x="92.50" y="423.50" font-size="12.6" fill="#000" text-anchor="start" font-weight="normal" font-family="Liberation Sans, sans-serif" textLength="84.90" lengthAdjust="spacingAndGlyphs">MACD(26,12,9)</text>
<text x="182.70" y="423.50" font-size="12.6" fill="#2e8af0" text-anchor="start" font-weight="normal" font-family="Liberation Sans, sans-serif" textLength="65.00" lengthAdjust="spacingAndGlyphs">DIFF:0.0129</text>
<text x="257.00" y="423.50" font-size="12.6" fill="#2ebd85" text-anchor="start" font-weight="normal" font-family="Liberation Sans, sans-serif" textLength="68.40" lengthAdjust="spacingAndGlyphs">DEA:-0.1285</text>
<text x="335.20" y="423.50" font-size="12.6" fill="#29abe2" text-anchor="start" font-weight="normal" font-family="Liberation Sans, sans-serif" textLength="76.60" lengthAdjust="spacingAndGlyphs">MACD:0.2829</text>
<rect shape-rendering="crispEdges" x="96" y="447" width="1" height="7" fill="#e8495b"/>
<rect shape-rendering="crispEdges" x="106" y="443" width="1" height="11" fill="#e8495b"/>
<rect shape-rendering="crispEdges" x="116" y="440" width="1" height="14" fill="#e8495b"/>
<rect shape-rendering="crispEdges" x="126" y="440" width="1" height="14" fill="#e8495b"/>
<rect shape-rendering="crispEdges" x="136" y="441" width="1" height="13" fill="#e8495b"/>
<rect shape-rendering="crispEdges" x="146" y="440" width="1" height="14" fill="#e8495b"/>
<rect shape-rendering="crispEdges" x="156" y="437" width="1" height="17" fill="#e8495b"/>
<rect shape-rendering="crispEdges" x="166" y="436" width="1" height="18" fill="#e8495b"/>
<rect shape-rendering="crispEdges" x="176" y="433" width="1" height="21" fill="#e8495b"/>
<rect shape-rendering="crispEdges" x="186" y="433" width="1" height="21" fill="#e8495b"/>
<rect shape-rendering="crispEdges" x="196" y="433" width="1" height="21" fill="#e8495b"/>
<rect shape-rendering="crispEdges" x="206" y="435" width="1" height="19" fill="#e8495b"/>
<rect shape-rendering="crispEdges" x="216" y="436" width="1" height="18" fill="#e8495b"/>
<rect shape-rendering="crispEdges" x="226" y="440" width="1" height="14" fill="#e8495b"/>
<rect shape-rendering="crispEdges" x="236" y="444" width="1" height="10" fill="#e8495b"/>
<rect shape-rendering="crispEdges" x="246" y="448" width="1" height="6" fill="#e8495b"/>
<rect shape-rendering="crispEdges" x="256" y="450" width="1" height="4" fill="#e8495b"/>
<rect shape-rendering="crispEdges" x="266" y="453" width="1" height="1" fill="#52b788"/>
<rect shape-rendering="crispEdges" x="276" y="453" width="1" height="4" fill="#52b788"/>
<rect shape-rendering="crispEdges" x="286" y="453" width="1" height="3" fill="#52b788"/>
<rect shape-rendering="crispEdges" x="296" y="453" width="1" height="1" fill="#52b788"/>
<rect shape-rendering="crispEdges" x="306" y="453" width="1" height="1" fill="#52b788"/>
<rect shape-rendering="crispEdges" x="316" y="453" width="1" height="1" fill="#52b788"/>
<rect shape-rendering="crispEdges" x="326" y="453" width="1" height="4" fill="#52b788"/>
<rect shape-rendering="crispEdges" x="336" y="453" width="1" height="3" fill="#52b788"/>
<rect shape-rendering="crispEdges" x="346" y="453" width="1" height="4" fill="#52b788"/>
<rect shape-rendering="crispEdges" x="356" y="453" width="1" height="4" fill="#52b788"/>
<rect shape-rendering="crispEdges" x="366" y="453" width="1" height="2" fill="#52b788"/>
<rect shape-rendering="crispEdges" x="376" y="453" width="1" height="1" fill="#52b788"/>
<rect shape-rendering="crispEdges" x="386" y="453" width="1" height="1" fill="#52b788"/>
<rect shape-rendering="crispEdges" x="396" y="453" width="1" height="1" fill="#52b788"/>
<rect shape-rendering="crispEdges" x="406" y="453" width="1" height="4" fill="#52b788"/>
<rect shape-rendering="crispEdges" x="416" y="453" width="1" height="5" fill="#52b788"/>
<rect shape-rendering="crispEdges" x="426" y="453" width="1" height="4" fill="#52b788"/>
<rect shape-rendering="crispEdges" x="436" y="453" width="1" height="1" fill="#52b788"/>
<rect shape-rendering="crispEdges" x="446" y="451" width="1" height="3" fill="#e8495b"/>
<rect shape-rendering="crispEdges" x="456" y="450" width="1" height="4" fill="#e8495b"/>
<rect shape-rendering="crispEdges" x="466" y="449" width="1" height="5" fill="#e8495b"/>
<rect shape-rendering="crispEdges" x="476" y="450" width="1" height="4" fill="#e8495b"/>
<rect shape-rendering="crispEdges" x="486" y="452" width="1" height="2" fill="#e8495b"/>
<rect shape-rendering="crispEdges" x="496" y="453" width="1" height="1" fill="#52b788"/>
<rect shape-rendering="crispEdges" x="506" y="453" width="1" height="4" fill="#52b788"/>
<rect shape-rendering="crispEdges" x="516" y="453" width="1" height="5" fill="#52b788"/>
<rect shape-rendering="crispEdges" x="526" y="453" width="1" height="7" fill="#52b788"/>
<rect shape-rendering="crispEdges" x="536" y="453" width="1" height="8" fill="#52b788"/>
<rect shape-rendering="crispEdges" x="546" y="453" width="1" height="8" fill="#52b788"/>
<rect shape-rendering="crispEdges" x="556" y="453" width="1" height="6" fill="#52b788"/>
<rect shape-rendering="crispEdges" x="566" y="453" width="1" height="4" fill="#52b788"/>
<rect shape-rendering="crispEdges" x="576" y="453" width="1" height="1" fill="#52b788"/>
<rect shape-rendering="crispEdges" x="586" y="451" width="1" height="3" fill="#e8495b"/>
<rect shape-rendering="crispEdges" x="596" y="449" width="1" height="5" fill="#e8495b"/>
<rect shape-rendering="crispEdges" x="606" y="448" width="1" height="6" fill="#e8495b"/>
<rect shape-rendering="crispEdges" x="616" y="446" width="1" height="8" fill="#e8495b"/>
<rect shape-rendering="crispEdges" x="626" y="444" width="1" height="10" fill="#e8495b"/>
<rect shape-rendering="crispEdges" x="636" y="441" width="1" height="13" fill="#e8495b"/>
<rect shape-rendering="crispEdges" x="646" y="441" width="1" height="13" fill="#e8495b"/>
<rect shape-rendering="crispEdges" x="656" y="440" width="1" height="14" fill="#e8495b"/>
<rect shape-rendering="crispEdges" x="666" y="441" width="1" height="13" fill="#e8495b"/>
<rect shape-rendering="crispEdges" x="676" y="444" width="1" height="10" fill="#e8495b"/>
<rect shape-rendering="crispEdges" x="686" y="447" width="1" height="7" fill="#e8495b"/>
<rect shape-rendering="crispEdges" x="696" y="451" width="1" height="3" fill="#e8495b"/>
<rect shape-rendering="crispEdges" x="706" y="452" width="1" height="2" fill="#e8495b"/>
<rect shape-rendering="crispEdges" x="716" y="452" width="1" height="2" fill="#e8495b"/>
<rect shape-rendering="crispEdges" x="726" y="448" width="1" height="6" fill="#e8495b"/>
<rect shape-rendering="crispEdges" x="736" y="444" width="1" height="10" fill="#e8495b"/>
<polyline shape-rendering="crispEdges" fill="none" stroke="#2e8af0" stroke-width="1" stroke-linejoin="round" points="96.5,484.2 106.5,480.7 116.5,477.9 126.5,476.2 136.5,475.4 146.5,472.9 156.5,469.4 166.5,467.4 176.5,463.0 186.5,460.0 196.5,458.2 206.5,456.7 216.5,456.2 226.5,456.2 236.5,457.5 246.5,459.2 256.5,459.5 266.5,461.2 276.5,463.0 286.5,463.0 296.5,462.0 306.5,462.3 320.5,463.7 330.5,465.0 353.0,465.7 363.0,464.5 398.0,465.0 413.0,467.0 430.4,467.0 450.3,465.0 462.8,463.7 480.3,463.7 492.8,465.0 505.3,466.2 518.0,466.9 526.5,468.7 536.5,471.2 546.5,471.7 556.5,471.7 566.5,471.2 576.5,469.5 586.5,468.0 596.5,465.7 606.5,464.5 616.5,463.0 626.5,461.2 636.5,458.7 646.5,457.0 656.5,455.0 666.5,454.0 676.5,454.0 686.5,455.7 696.5,457.5 706.5,457.5 716.5,457.5 726.5,455.0 736.5,452.5"/>
<polyline shape-rendering="crispEdges" fill="none" stroke="#2ebd85" stroke-width="1" stroke-linejoin="round" points="96.5,487.4 106.5,485.7 116.5,483.9 126.5,482.4 136.5,480.7 146.5,479.4 156.5,477.4 166.5,475.4 176.5,472.9 186.5,470.7 196.5,468.2 206.5,466.0 216.5,464.0 226.5,462.0 236.5,460.5 246.5,460.0 256.5,460.0 266.5,460.0 276.5,461.0 286.5,461.2 296.5,461.5 306.5,461.7 320.5,463.0 348.0,463.7 373.0,464.2 398.0,464.5 413.0,465.7 430.4,465.7 447.8,465.2 472.8,464.5 492.8,464.5 505.3,465.5 518.0,465.6 526.5,466.2 536.5,467.5 546.5,468.2 556.5,468.7 566.5,469.5 576.5,469.5 586.5,469.2 596.5,468.0 606.5,467.5 616.5,466.5 626.5,465.5 636.5,464.2 646.5,463.0 656.5,461.2 666.5,460.0 676.5,458.7 686.5,458.2 696.5,458.2 706.5,458.2 716.5,458.2 726.5,457.5 736.5,456.2"/>
<line shape-rendering="crispEdges" x1="106.5" y1="493" x2="106.5" y2="498" stroke="#b8c0cc" stroke-width="1"/>
<text x="108.50" y="505.50" font-size="12" fill="#1c1c2c" text-anchor="start" font-weight="bold" font-family="Liberation Sans, sans-serif" textLength="44.50" lengthAdjust="spacingAndGlyphs">2025/05</text>
<line shape-rendering="crispEdges" x1="326.5" y1="493" x2="326.5" y2="498" stroke="#b8c0cc" stroke-width="1"/>
<text x="328.50" y="505.50" font-size="12" fill="#1c1c2c" text-anchor="start" font-weight="bold" font-family="Liberation Sans, sans-serif" textLength="44.50" lengthAdjust="spacingAndGlyphs">2025/06</text>
<line shape-rendering="crispEdges" x1="536.5" y1="493" x2="536.5" y2="498" stroke="#b8c0cc" stroke-width="1"/>
<text x="538.50" y="505.50" font-size="12" fill="#1c1c2c" text-anchor="start" font-weight="bold" font-family="Liberation Sans, sans-serif" textLength="44.50" lengthAdjust="spacingAndGlyphs">2025/07</text>
<line shape-rendering="crispEdges" x1="110" y1="510.5" x2="816" y2="510.5" stroke="#eef1f6" stroke-width="1"/>
<rect shape-rendering="crispEdges" x="19.5" y="493.5" width="70" height="19" fill="#fff" stroke="#cdd5e1" stroke-width="1"/>
<text x="33.80" y="509.30" font-size="13.2" fill="#ff7200" text-anchor="start" font-weight="bold" font-family="Liberation Sans, Noto Sans CJK SC, sans-serif" textLength="25.8" lengthAdjust="spacingAndGlyphs">日线</text>
<path d="M68.7 500 l4.5 8.3 h-9z" fill="#ff7f00"/>
<line shape-rendering="crispEdges" x1="20" y1="513.5" x2="905" y2="513.5" stroke="#cdd5e1" stroke-width="1"/>
<line shape-rendering="crispEdges" x1="20" y1="528.5" x2="905" y2="528.5" stroke="#cdd5e1" stroke-width="1"/>
<line shape-rendering="crispEdges" x1="904.5" y1="513" x2="904.5" y2="528" stroke="#cdd5e1" stroke-width="1"/>
<rect shape-rendering="crispEdges" x="20" y="513" width="39" height="15" fill="#ff6600"/>
<text x="27.90" y="525.80" font-size="12.8" fill="#fff" text-anchor="start" font-family="Liberation Sans, Noto Sans CJK SC, sans-serif" textLength="24.4" lengthAdjust="spacingAndGlyphs">指标</text>
<text x="67.50" y="525.80" font-size="12.8" fill="#111" text-anchor="start" font-family="Liberation Sans, Noto Sans CJK SC, sans-serif" textLength="24.4" lengthAdjust="spacingAndGlyphs">模板</text>
<line shape-rendering="crispEdges" x1="59.5" y1="514" x2="59.5" y2="528" stroke="#cdd5e1" stroke-width="1"/>
<line shape-rendering="crispEdges" x1="99.5" y1="514" x2="99.5" y2="528" stroke="#cdd5e1" stroke-width="1"/>
<line shape-rendering="crispEdges" x1="157.5" y1="514" x2="157.5" y2="528" stroke="#cdd5e1" stroke-width="1"/>
<line shape-rendering="crispEdges" x1="185.5" y1="514" x2="185.5" y2="528" stroke="#cdd5e1" stroke-width="1"/>
<line shape-rendering="crispEdges" x1="225.5" y1="514" x2="225.5" y2="528" stroke="#cdd5e1" stroke-width="1"/>
<line shape-rendering="crispEdges" x1="253.5" y1="514" x2="253.5" y2="528" stroke="#cdd5e1" stroke-width="1"/>
<line shape-rendering="crispEdges" x1="288.5" y1="514" x2="288.5" y2="528" stroke="#cdd5e1" stroke-width="1"/>
<line shape-rendering="crispEdges" x1="327.5" y1="514" x2="327.5" y2="528" stroke="#cdd5e1" stroke-width="1"/>
<line shape-rendering="crispEdges" x1="361.5" y1="514" x2="361.5" y2="528" stroke="#cdd5e1" stroke-width="1"/>
<line shape-rendering="crispEdges" x1="395.5" y1="514" x2="395.5" y2="528" stroke="#cdd5e1" stroke-width="1"/>
<line shape-rendering="crispEdges" x1="429.5" y1="514" x2="429.5" y2="528" stroke="#cdd5e1" stroke-width="1"/>
<line shape-rendering="crispEdges" x1="457.5" y1="514" x2="457.5" y2="528" stroke="#cdd5e1" stroke-width="1"/>
<line shape-rendering="crispEdges" x1="492.5" y1="514" x2="492.5" y2="528" stroke="#cdd5e1" stroke-width="1"/>
<line shape-rendering="crispEdges" x1="531.5" y1="514" x2="531.5" y2="528" stroke="#cdd5e1" stroke-width="1"/>
<line shape-rendering="crispEdges" x1="564.5" y1="514" x2="564.5" y2="528" stroke="#cdd5e1" stroke-width="1"/>
<line shape-rendering="crispEdges" x1="665.5" y1="514" x2="665.5" y2="528" stroke="#cdd5e1" stroke-width="1"/>
<line shape-rendering="crispEdges" x1="705.5" y1="514" x2="705.5" y2="528" stroke="#cdd5e1" stroke-width="1"/>
<text x="108.00" y="525.00" font-size="11" fill="#ff7200" text-anchor="start" font-weight="normal" font-family="Liberation Serif, sans-serif" textLength="18.00" lengthAdjust="spacingAndGlyphs">VIP</text>
<text x="125.60" y="525.80" font-size="12.8" fill="#ff7200" text-anchor="start" font-family="Liberation Sans, Noto Sans CJK SC, sans-serif" textLength="24.4" lengthAdjust="spacingAndGlyphs">指标</text>
<text x="165.50" y="525.00" font-size="11" fill="#111" text-anchor="start" font-weight="normal" font-family="Liberation Serif, sans-serif" textLength="12.00" lengthAdjust="spacingAndGlyphs">MA</text>
<text x="193.50" y="525.00" font-size="11" fill="#111" text-anchor="start" font-weight="normal" font-family="Liberation Serif, sans-serif" textLength="24.00" lengthAdjust="spacingAndGlyphs">MACD</text>
<text x="233.50" y="525.00" font-size="11" fill="#111" text-anchor="start" font-weight="normal" font-family="Liberation Serif, sans-serif" textLength="12.00" lengthAdjust="spacingAndGlyphs">PP</text>
<text x="262.00" y="525.00" font-size="11" fill="#111" text-anchor="start" font-weight="normal" font-family="Liberation Serif, sans-serif" textLength="18.00" lengthAdjust="spacingAndGlyphs">PPS</text>
<text x="296.00" y="525.00" font-size="11" fill="#111" text-anchor="start" font-weight="normal" font-family="Liberation Serif, sans-serif" textLength="24.00" lengthAdjust="spacingAndGlyphs">BIAS</text>
<text x="335.50" y="525.00" font-size="11" fill="#111" text-anchor="start" font-weight="normal" font-family="Liberation Serif, sans-serif" textLength="18.00" lengthAdjust="spacingAndGlyphs">CCI</text>
<text x="369.50" y="525.00" font-size="11" fill="#111" text-anchor="start" font-weight="normal" font-family="Liberation Serif, sans-serif" textLength="18.00" lengthAdjust="spacingAndGlyphs">KDJ</text>
<text x="403.50" y="525.00" font-size="11" fill="#111" text-anchor="start" font-weight="normal" font-family="Liberation Serif, sans-serif" textLength="18.00" lengthAdjust="spacingAndGlyphs">RSI</text>
<text x="437.50" y="525.00" font-size="11" fill="#111" text-anchor="start" font-weight="normal" font-family="Liberation Serif, sans-serif" textLength="12.00" lengthAdjust="spacingAndGlyphs">CR</text>
<text x="466.00" y="525.00" font-size="11" fill="#111" text-anchor="start" font-weight="normal" font-family="Liberation Serif, sans-serif" textLength="18.00" lengthAdjust="spacingAndGlyphs">PSY</text>
<text x="500.00" y="525.00" font-size="11" fill="#111" text-anchor="start" font-weight="normal" font-family="Liberation Serif, sans-serif" textLength="24.00" lengthAdjust="spacingAndGlyphs">BOLL</text>
<text x="539.00" y="525.00" font-size="11" fill="#111" text-anchor="start" font-weight="normal" font-family="Liberation Serif, sans-serif" textLength="18.00" lengthAdjust="spacingAndGlyphs">VOL</text>
<text x="573.00" y="525.00" font-size="11" fill="#111" text-anchor="start" font-weight="normal" font-family="Liberation Serif, sans-serif" textLength="84.00" lengthAdjust="spacingAndGlyphs">ICHIMOKU CLOUD</text>
<text x="673.00" y="525.80" font-size="12.8" fill="#111" text-anchor="start" font-family="Liberation Sans, Noto Sans CJK SC, sans-serif" textLength="25.1" lengthAdjust="spacingAndGlyphs">设置</text>
<text transform="translate(777.0,504.7) scale(0.89,1)" font-size="31.5" fill="#d3c2b5" font-family="Liberation Sans, sans-serif">F</text>
<text transform="translate(798.5,504.7) scale(0.89,1)" font-size="31.5" fill="#d3c2b5" font-family="Liberation Sans, sans-serif">X</text>
<text transform="translate(820.0,504.7) scale(0.97,1)" font-size="31.5" fill="#d3c2b5" font-family="Liberation Sans, sans-serif">6</text>
<text transform="translate(839.9,504.7) scale(0.97,1)" font-size="31.5" fill="#d3c2b5" font-family="Liberation Sans, sans-serif">7</text>
<text transform="translate(859.0,504.7) scale(0.97,1)" font-size="31.5" fill="#d3c2b5" font-family="Liberation Sans, sans-serif">8</text>
<text transform="translate(776.0,503.7) scale(0.89,1)" font-size="31.5" fill="#d7e3f6" font-family="Liberation Sans, sans-serif">F</text>
<text transform="translate(797.5,503.7) scale(0.89,1)" font-size="31.5" fill="#d7e3f6" font-family="Liberation Sans, sans-serif">X</text>
<text transform="translate(819.0,503.7) scale(0.97,1)" font-size="31.5" fill="#d7e3f6" font-family="Liberation Sans, sans-serif">6</text>
<text transform="translate(838.9,503.7) scale(0.97,1)" font-size="31.5" fill="#d7e3f6" font-family="Liberation Sans, sans-serif">7</text>
<text transform="translate(858.0,503.7) scale(0.97,1)" font-size="31.5" fill="#d7e3f6" font-family="Liberation Sans, sans-serif">8</text>
</svg>
</body></html>
